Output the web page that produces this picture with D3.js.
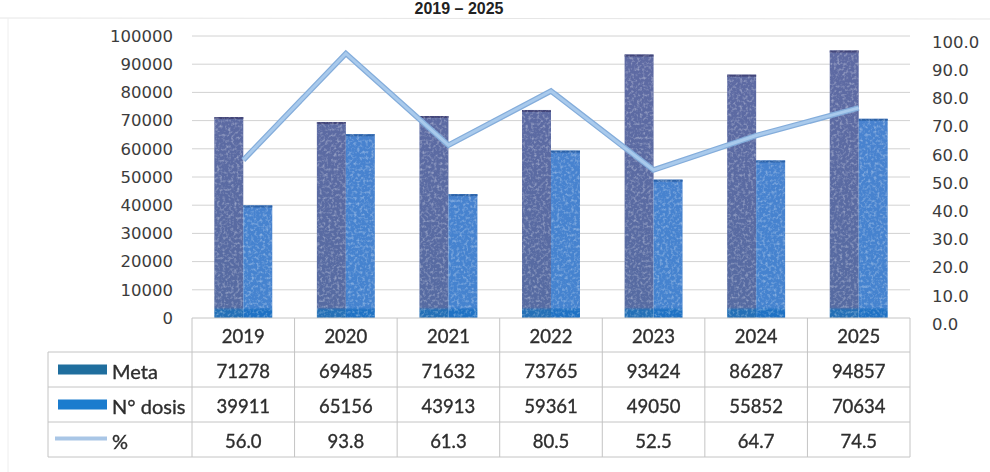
<!DOCTYPE html>
<html>
<head>
<meta charset="utf-8">
<script src="https://cdn.jsdelivr.net/npm/d3@7"></script>
<style>
  html, body { margin: 0; padding: 0; background: #fff; }
  svg { display: block; }
</style>
</head>
<body>
<svg id="chart" width="990" height="472"></svg>
<script>
// Vaccination goal vs. doses applied, 2019 – 2025
const years = ["2019", "2020", "2021", "2022", "2023", "2024", "2025"];
const meta = [71278, 69485, 71632, 73765, 93424, 86287, 94857];
const dosis = [39911, 65156, 43913, 59361, 49050, 55852, 70634];
const pct = [56.0, 93.8, 61.3, 80.5, 52.5, 64.7, 74.5];
const leftTicks = [0, 10000, 20000, 30000, 40000, 50000, 60000, 70000, 80000, 90000, 100000];
const rightTicks = [0, 10, 20, 30, 40, 50, 60, 70, 80, 90, 100];
const seriesNames = ["Meta", "N° dosis", "%"];

const svg = d3.select("#chart");
const W = 990, H = 472;
const plot = { left: 192, right: 910, top: 36, bottom: 318 };

const defs = svg.append("defs");

// light print grain for the bars
const grain = defs.append("filter").attr("id", "grain")
  .attr("x", 0).attr("y", 0).attr("width", 1).attr("height", 1)
  .attr("color-interpolation-filters", "sRGB");
grain.append("feTurbulence").attr("type", "fractalNoise")
  .attr("baseFrequency", 0.35).attr("numOctaves", 2).attr("seed", 7).attr("result", "noise");
grain.append("feColorMatrix").attr("in", "noise").attr("type", "matrix")
  .attr("values", "0 0 0 0 1  0 0 0 0 1  0 0 0 0 1  0 0 0 0.9 -0.42").attr("result", "specks");
grain.append("feComposite").attr("in", "specks").attr("in2", "SourceGraphic")
  .attr("operator", "in").attr("result", "specksIn");
const gm = grain.append("feMerge");
gm.append("feMergeNode").attr("in", "SourceGraphic");
gm.append("feMergeNode").attr("in", "specksIn");

// scales
const x0 = d3.scaleBand().domain(years).range([plot.left, plot.right]).paddingInner(0).paddingOuter(0);
const x1 = d3.scaleBand().domain(["meta", "dosis"]).range([0, x0.bandwidth()]).paddingInner(0).paddingOuter(0.77);
const y = d3.scaleLinear().domain([0, 100000]).range([plot.bottom, plot.top]);
const yPct = d3.scaleLinear().domain([0, 100]).range([plot.bottom, plot.top]);

// vertical gradients with the deeper blue foot of each bar
function footGradient(id, top, mid, foot) {
  const g = defs.append("linearGradient").attr("id", id)
    .attr("gradientUnits", "userSpaceOnUse")
    .attr("x1", 0).attr("x2", 0).attr("y1", plot.top).attr("y2", plot.bottom);
  const footStart = (y(2800) - plot.top) / (plot.bottom - plot.top);
  g.append("stop").attr("offset", 0).attr("stop-color", top);
  g.append("stop").attr("offset", footStart - 0.01).attr("stop-color", mid);
  g.append("stop").attr("offset", footStart).attr("stop-color", foot);
  g.append("stop").attr("offset", 1).attr("stop-color", foot);
}
footGradient("gMeta", "#5f6aa3", "#566ba2", "#2470b6");
footGradient("gDosis", "#4a82cf", "#4583cf", "#1f72c4");

// faint page frame
svg.append("line").attr("x1", 0).attr("x2", W).attr("y1", 18).attr("y2", 19)
  .attr("stroke", "#e6e6e6").attr("stroke-width", 1);
svg.append("line").attr("x1", 8).attr("x2", 8).attr("y1", 18).attr("y2", H)
  .attr("stroke", "#eeeeee").attr("stroke-width", 1);

// title
svg.append("text").attr("x", 459).attr("y", 14)
  .attr("text-anchor", "middle")
  .style("font-family", "'Liberation Sans', Arial, sans-serif")
  .style("font-weight", "bold").style("font-size", "16px").style("fill", "#222")
  .text("2019 – 2025");

// gridlines
svg.append("g").selectAll("line").data(leftTicks.slice(1)).join("line")
  .attr("x1", plot.left).attr("x2", plot.right)
  .attr("y1", d => y(d)).attr("y2", d => y(d))
  .attr("stroke", "#d2d2d2").attr("stroke-width", 1);

// left axis
const axisFont = "'DejaVu Sans', Verdana, sans-serif";
const gLeft = svg.append("g").attr("transform", `translate(${plot.left - 19},0)`)
  .call(d3.axisLeft(y).tickValues(leftTicks).tickFormat(d3.format("d")).tickSize(0).tickPadding(0));
gLeft.select(".domain").remove();
gLeft.selectAll("text").style("font-family", axisFont).style("font-size", "16.5px").style("fill", "#3c3c3c");

// right axis (percent)
const gRight = svg.append("g").attr("transform", `translate(932,6)`)
  .call(d3.axisRight(yPct).tickValues(rightTicks).tickFormat(d3.format(".1f")).tickSize(0).tickPadding(0));
gRight.select(".domain").remove();
gRight.selectAll("text").style("font-family", axisFont).style("font-size", "16.5px").style("fill", "#3c3c3c");

// bars
const rows = years.map((yr, i) => ({ year: yr, meta: meta[i], dosis: dosis[i], pct: pct[i] }));
const barG = svg.append("g").attr("filter", "url(#grain)");
const groups = barG.selectAll("g").data(rows).join("g")
  .attr("transform", d => `translate(${x0(d.year)},0)`);
groups.append("rect")
  .attr("x", x1("meta")).attr("width", x1.bandwidth())
  .attr("y", d => y(d.meta)).attr("height", d => y(0) - y(d.meta))
  .attr("fill", "url(#gMeta)");
groups.append("rect")
  .attr("x", x1("dosis")).attr("width", x1.bandwidth())
  .attr("y", d => y(d.dosis)).attr("height", d => y(0) - y(d.dosis))
  .attr("fill", "url(#gDosis)");
// thin darker cap on top of each bar
groups.append("rect")
  .attr("x", x1("meta")).attr("width", x1.bandwidth())
  .attr("y", d => y(d.meta)).attr("height", 2)
  .attr("fill", "#43467a");
groups.append("rect")
  .attr("x", x1("dosis")).attr("width", x1.bandwidth())
  .attr("y", d => y(d.dosis)).attr("height", 2)
  .attr("fill", "#2c62a8");

// percent line
const line = d3.line().x(d => x0(d.year) + x0.bandwidth() / 2).y(d => yPct(d.pct));
svg.append("path").datum(rows).attr("d", line)
  .attr("fill", "none").attr("stroke", "#84addb").attr("stroke-width", 5.5)
  .attr("stroke-linejoin", "miter");
svg.append("path").datum(rows).attr("d", line)
  .attr("fill", "none").attr("stroke", "#a9caec").attr("stroke-width", 3)
  .attr("stroke-linejoin", "miter");

// data table
const rowEdges = [318, 352, 387, 422, 457];
const tableLeft = 48;
const tableFont = "Lato, 'Open Sans', sans-serif";
const border = "#c4c4c4";
const tbl = svg.append("g");

// horizontal rules
rowEdges.forEach((ry, i) => {
  tbl.append("line")
    .attr("x1", i === 0 ? plot.left : tableLeft).attr("x2", plot.right)
    .attr("y1", ry).attr("y2", ry).attr("stroke", border).attr("stroke-width", 1);
});
// vertical rules
const colEdges = years.map(yr => x0(yr)).concat([plot.right]);
colEdges.forEach(cx => {
  tbl.append("line").attr("x1", cx).attr("x2", cx)
    .attr("y1", rowEdges[0]).attr("y2", rowEdges[4])
    .attr("stroke", border).attr("stroke-width", 1);
});
tbl.append("line").attr("x1", tableLeft).attr("x2", tableLeft)
  .attr("y1", rowEdges[1]).attr("y2", rowEdges[4]).attr("stroke", border).attr("stroke-width", 1);

const cellText = sel => sel
  .attr("text-anchor", "middle").attr("dominant-baseline", "central")
  .style("font-family", tableFont).style("font-size", "18.5px").style("fill", "#2e2e2e")
  .style("stroke", "#2e2e2e").style("stroke-width", 0.35);

// header years
tbl.selectAll("text.yr").data(years).join("text").attr("class", "yr")
  .attr("x", d => x0(d) + x0.bandwidth() / 2).attr("y", (rowEdges[0] + rowEdges[1]) / 2 + 1)
  .call(cellText)
  .text(d => d);

// value rows
const valueRows = [
  meta.map(v => d3.format("d")(v)),
  dosis.map(v => d3.format("d")(v)),
  pct.map(v => d3.format(".1f")(v))
];
valueRows.forEach((vals, r) => {
  const cy = (rowEdges[r + 1] + rowEdges[r + 2]) / 2 + 1;
  tbl.selectAll(`text.v${r}`).data(vals).join("text").attr("class", `v${r}`)
    .attr("x", (d, i) => x0(years[i]) + x0.bandwidth() / 2).attr("y", cy)
    .call(cellText)
    .text(d => d);
});

// legend keys inside the table
const keyColors = ["#1f6e9e", "#1b7cce"];
seriesNames.forEach((name, r) => {
  const cy = (rowEdges[r + 1] + rowEdges[r + 2]) / 2;
  if (r < 2) {
    tbl.append("rect").attr("x", 58).attr("y", cy - 5).attr("width", 49).attr("height", 10)
      .attr("fill", keyColors[r]);
  } else {
    tbl.append("line").attr("x1", 55).attr("x2", 107).attr("y1", cy - 1).attr("y2", cy - 1)
      .attr("stroke", "#a9c6e6").attr("stroke-width", 4);
  }
  tbl.append("text").attr("x", 112).attr("y", cy + 1)
    .attr("dominant-baseline", "central")
    .style("font-family", tableFont).style("font-size", "20px").style("fill", "#2e2e2e")
    .style("stroke", "#2e2e2e").style("stroke-width", 0.35)
    .text(name);
});
</script>
</body>
</html>
